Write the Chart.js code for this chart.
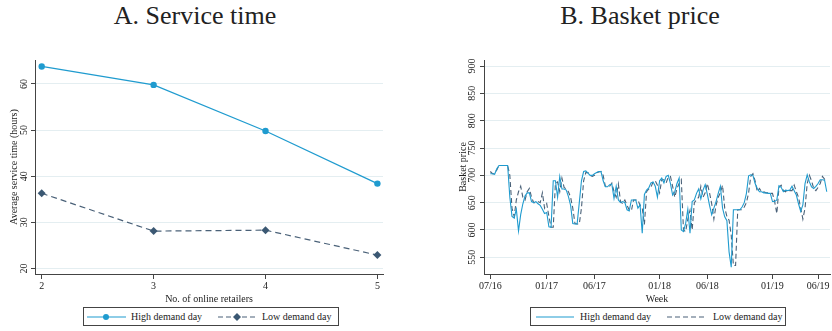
<!DOCTYPE html>
<html>
<head>
<meta charset="utf-8">
<script src="https://cdn.jsdelivr.net/npm/chart.js@4.4.1/dist/chart.umd.min.js"></script>
<style>
body { margin: 0; background: #fff; font-family: "Liberation Serif", serif; color: #222; }
#wrap { position: relative; width: 832px; height: 331px; overflow: hidden; }
.title { position: absolute; top: 3px; width: 240px; text-align: center; font-size: 26px; line-height: 1; white-space: nowrap; }
.panel { position: absolute; top: 40px; width: 416px; height: 265px; }
.legend { position: absolute; top: 307px; height: 19px; border: 1px solid #444; box-sizing: border-box; font-size: 10px; }
.legend span { position: absolute; top: 3px; white-space: nowrap; }
.legend svg { position: absolute; top: 0; }
</style>
</head>
<body>
<div id="wrap">
  <div class="title" style="left:75px">A. Service time</div>
  <div class="title" style="left:520px">B. Basket price</div>
  <div class="panel" style="left:0"><canvas id="serviceChart"></canvas></div>
  <div class="panel" style="left:416px"><canvas id="priceChart"></canvas></div>

  <div class="legend" style="left:83px;width:256px">
    <svg width="256" height="19">
      <line x1="3" y1="9" x2="42" y2="9" stroke="#1f9bcf" stroke-width="1.2"/>
      <circle cx="22" cy="9" r="3" fill="#1f9bcf"/>
      <line x1="134" y1="9" x2="172" y2="9" stroke="#4a6178" stroke-width="1.2" stroke-dasharray="5,3"/>
      <path d="M153 5 L157 9 L153 13 L149 9 Z" fill="#3b5873"/>
    </svg>
    <span style="left:47px">High demand day</span>
    <span style="left:178px">Low demand day</span>
  </div>
  <div class="legend" style="left:530px;width:256px">
    <svg width="256" height="19">
      <line x1="5" y1="9" x2="43" y2="9" stroke="#1f9bcf" stroke-width="1.2"/>
      <line x1="136" y1="9" x2="176" y2="9" stroke="#4a6178" stroke-width="1.2" stroke-dasharray="5,3"/>
    </svg>
    <span style="left:49px">High demand day</span>
    <span style="left:182px">Low demand day</span>
  </div>
</div>

<script>
// Panel A data
const retailers = [2, 3, 4, 5];
const serviceHigh = [63.8, 59.8, 49.8, 38.4];
const serviceLow = [36.3, 28.1, 28.3, 22.9];
const serviceTicks = [20, 30, 40, 50, 60];

// Panel B data (weekly, week 0 = July 2016)
const weekTicks = [0, 26, 48, 78, 100, 130, 151];
const weekTickLabels = ['07/16', '01/17', '06/17', '01/18', '06/18', '01/19', '06/19'];
const priceTicks = [550, 600, 650, 700, 750, 800, 850, 900];
const priceHigh = [
  703, 703, 702, 712, 718, 718, 718, 718, 718,
  660, 625, 622, 638, 598, 628, 648, 662, 668, 668, 652,
  650, 652, 648, 645, 638, 630, 632, 606, 605, 690,
  690, 660, 698, 675, 675, 673, 661, 645, 612, 611,
  611, 650, 690, 707, 708, 704, 700, 700, 703, 705,
  707, 707, 690, 679, 679, 683, 684, 658, 680, 655,
  650, 652, 650, 637, 635, 655, 655, 655, 640, 646,
  594, 665, 673, 677, 686, 688, 680, 660, 690, 695,
  686, 698, 700, 685, 664, 670, 685, 695, 600, 597,
  612, 638, 594, 652, 655, 667, 675, 657, 673, 683,
  665, 645, 628, 640, 652, 667, 680, 640, 624, 617,
  560, 532, 637, 637, 637, 637, 642, 650, 667, 699,
  701, 700, 685, 676, 670, 670, 668, 668, 667, 667,
  652, 652, 655, 681, 678, 670, 673, 672, 673, 680,
  672, 664, 648, 634, 646, 685, 701, 688, 679, 676,
  680, 685, 692, 692, 691, 670
];
const priceLow = [
  707, 703, 703, 710, 718, 718, 718, 718, 718,
  700, 640, 625, 655, 670, 680, 660, 655, 670, 676, 660,
  650, 650, 652, 650, 668, 640, 648, 625, 605, 605,
  685, 688, 670, 695, 678, 675, 670, 660, 640, 612,
  611, 611, 640, 690, 705, 705, 700, 698, 700, 705,
  706, 707, 700, 680, 680, 680, 686, 670, 660, 684,
  652, 648, 655, 645, 637, 635, 655, 655, 655, 645,
  640, 610, 670, 675, 678, 688, 690, 682, 668, 692,
  692, 686, 697, 698, 680, 660, 676, 685, 692, 600,
  597, 620, 636, 600, 650, 655, 660, 680, 660, 668,
  685, 668, 648, 620, 645, 660, 668, 682, 640, 625,
  618, 590, 535, 535, 637, 637, 637, 642, 650, 668,
  698, 703, 690, 670, 676, 670, 670, 668, 668, 667,
  667, 652, 630, 678, 682, 672, 670, 673, 672, 672,
  682, 670, 660, 640, 620, 640, 685, 700, 690, 676,
  672, 678, 685, 698, 693, 690
];

const blue = '#1f9bcf';
const slate = '#4a6178';
const slateDark = '#3b5873';
const axisColor = '#444';
const gridColor = '#e4eef1';
const serif = '"Liberation Serif", serif';

// rotated y tick labels + y title, Stata style
const yLabels = {
  id: 'yLabels',
  afterDraw(chart, args, opts) {
    const ctx = chart.ctx;
    const y = chart.scales.y;
    ctx.save();
    ctx.fillStyle = '#222';
    ctx.font = '10px ' + serif;
    ctx.textAlign = 'center';
    ctx.textBaseline = 'middle';
    y.ticks.forEach(t => {
      ctx.save();
      ctx.translate(opts.tickX, y.getPixelForValue(t.value));
      ctx.rotate(-Math.PI / 2);
      ctx.fillText(String(t.value), 0, 0);
      ctx.restore();
    });
    ctx.translate(opts.titleX, (chart.chartArea.top + chart.chartArea.bottom) / 2);
    ctx.rotate(-Math.PI / 2);
    ctx.fillText(opts.title, 0, 0);
    ctx.restore();
  }
};

function yScale(min, max, ticks, width) {
  return {
    min: min, max: max,
    afterBuildTicks: s => { s.ticks = ticks.map(v => ({ value: v })); },
    afterFit: s => { s.width = width; },
    ticks: { display: false },
    grid: { color: gridColor, lineWidth: 1, tickColor: axisColor, tickLength: 4 },
    border: { color: axisColor, width: 1 }
  };
}

function xScale(min, max, ticks, labelFn, title) {
  return {
    type: 'linear',
    min: min, max: max,
    afterBuildTicks: s => { s.ticks = ticks.map(v => ({ value: v })); },
    afterFit: s => { s.height = 31; },
    ticks: {
      color: '#222', font: { family: serif, size: 10 }, padding: 1,
      maxRotation: 0, autoSkip: false, callback: labelFn
    },
    grid: { drawOnChartArea: false, tickColor: axisColor, tickLength: 5 },
    border: { color: axisColor, width: 1 },
    title: { display: true, text: title, color: '#222', font: { family: serif, size: 10 }, padding: { top: 0, bottom: 0 } }
  };
}

// Panel A
new Chart(document.getElementById('serviceChart'), {
  type: 'line',
  data: {
    datasets: [{
      label: 'High demand day',
      data: retailers.map((r, i) => ({ x: r, y: serviceHigh[i] })),
      borderColor: blue, backgroundColor: blue, borderWidth: 1.2,
      pointStyle: 'circle', pointRadius: 3.2, pointBorderWidth: 0, tension: 0
    }, {
      label: 'Low demand day',
      data: retailers.map((r, i) => ({ x: r, y: serviceLow[i] })),
      borderColor: slate, backgroundColor: slateDark, borderWidth: 1.2, borderDash: [6, 4],
      pointStyle: 'rectRot', pointRadius: 4, pointBorderWidth: 0, tension: 0
    }]
  },
  options: {
    responsive: true, maintainAspectRatio: false, animation: false,
    layout: { padding: { top: 20, right: 33, left: 0, bottom: 0 } },
    plugins: {
      legend: { display: false }, tooltip: { enabled: false },
      yLabels: { tickX: 24.5, titleX: 14, title: 'Average service time (hours)' }
    },
    scales: {
      x: xScale(1.94, 5.05, retailers, v => String(v), 'No. of online retailers'),
      y: yScale(18.8, 65.2, serviceTicks, 35)
    }
  },
  plugins: [yLabels]
});

// Panel B
new Chart(document.getElementById('priceChart'), {
  type: 'line',
  data: {
    datasets: [{
      label: 'High demand day',
      data: priceHigh.map((v, i) => ({ x: i, y: v })),
      borderColor: blue, borderWidth: 1.1, pointRadius: 0, tension: 0
    }, {
      label: 'Low demand day',
      data: priceLow.map((v, i) => ({ x: i, y: v })),
      borderColor: slate, borderWidth: 1.1, borderDash: [5, 3], pointRadius: 0, tension: 0
    }]
  },
  options: {
    responsive: true, maintainAspectRatio: false, animation: false,
    layout: { padding: { top: 20, right: 2, left: 0, bottom: 0 } },
    plugins: {
      legend: { display: false }, tooltip: { enabled: false },
      yLabels: { tickX: 56, titleX: 47, title: 'Basket price' }
    },
    scales: {
      x: xScale(-2.9, 156.5, weekTicks, v => weekTickLabels[weekTicks.indexOf(v)], 'Week'),
      y: yScale(519.5, 911, priceTicks, 68)
    }
  },
  plugins: [yLabels]
});
</script>
</body>
</html>
